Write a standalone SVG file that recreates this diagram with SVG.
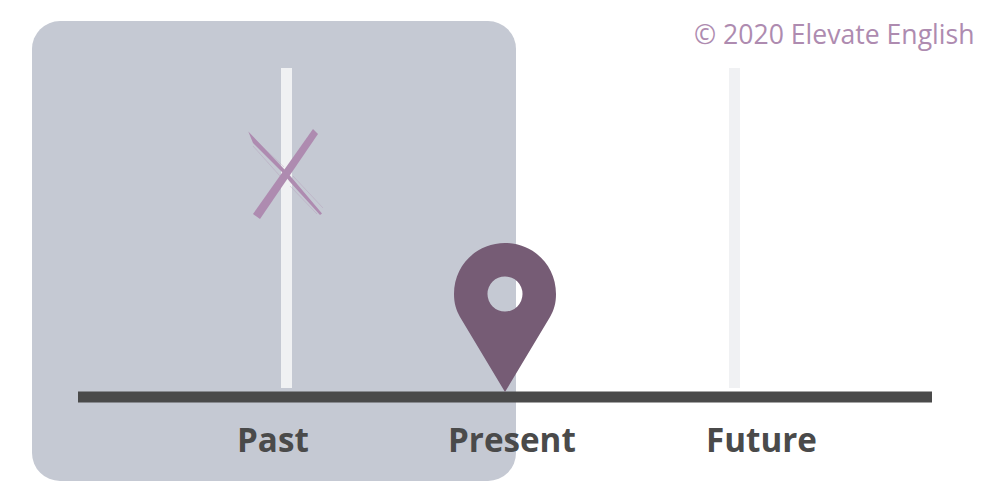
<svg xmlns="http://www.w3.org/2000/svg" width="1000" height="500" viewBox="0 0 1000 500">
<style>
.lbl{font-family:"Open Sans","Noto Sans",sans-serif;font-weight:700;font-size:33.200px;fill:#4a4a4a}
.bar{fill:#f0f1f3}
.x{fill:#ae8bb0}
.faint{fill:none;stroke:#ae8bb0;stroke-width:1;opacity:0.3}
</style>
<rect width="1000" height="500" fill="#ffffff"/>
<g id="past-zone"><rect x="32" y="21" width="484" height="460" rx="28" ry="28" fill="#c5c9d3"/></g>
<g id="past-bar"><rect class="bar" x="281" y="68" width="11" height="320"/></g>
<g id="future-bar"><rect class="bar" x="729" y="68" width="11" height="320"/></g>
<g id="cross">
<path class="faint" d="M251 136 L284 167 M253 146 L280 176 M293 176 L323 208 M290 186 L317 214 M296 160 L306 148"/>
<path class="x" d="M248.300 131.500 L285 170 L292 178 L322 213.500 L320 215 L290 182 L282 172 L253 143 Z"/>
<path class="x" d="M313 129 L318 134 L260 219 L253 214 Z"/>
</g>
<g id="connectors"><rect x="78" y="391.500" width="854" height="11" fill="#4a4a4a"/></g>
<g id="pin"><path fill="#765c75" fill-rule="evenodd" d="M505 243 C533 243 556 265 556 294 C556 303 554 310 550 317 L505 392 L460 317 C456 310 454 303 454 294 C454 265 477 243 505 243 Z M505 276.500 A17.500 17.500 0 1 0 505 311.500 A17.500 17.500 0 1 0 505 276.500 Z"/></g>
<g id="label-past"><text class="lbl" x="237" y="452">Past</text></g>
<g id="label-present"><text class="lbl" x="448" y="452">Present</text></g>
<g id="label-future"><text class="lbl" x="706" y="452">Future</text></g>
<g id="copyright"><text x="694" y="44" font-family="'Open Sans','Noto Sans',sans-serif" font-size="26.600" fill="#ae8bb0">© 2020 Elevate English</text></g>
</svg>
